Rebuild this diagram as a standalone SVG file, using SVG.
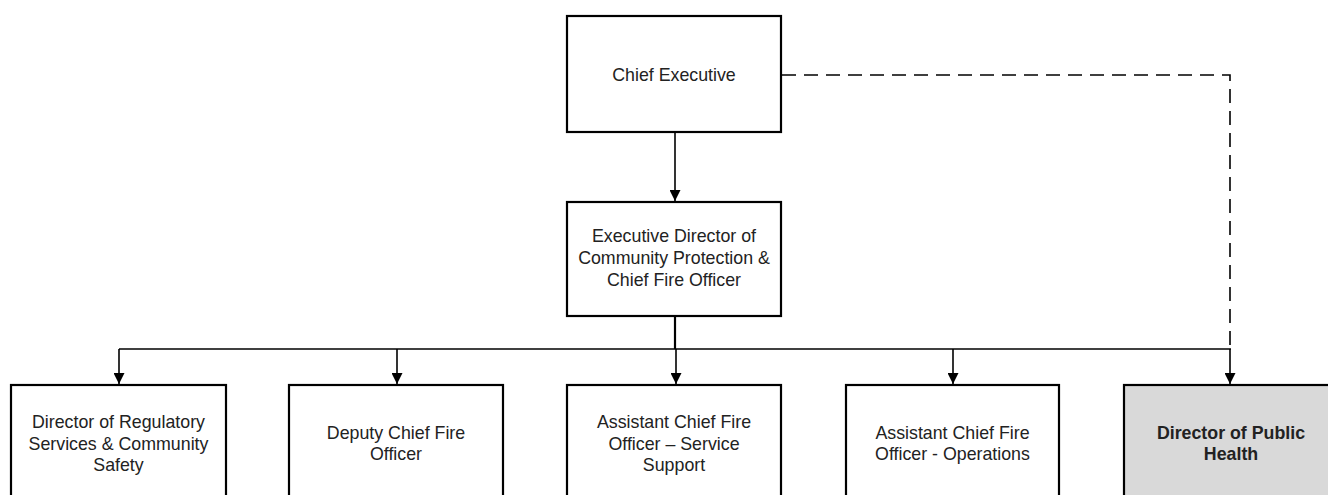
<svg xmlns="http://www.w3.org/2000/svg" width="1328" height="495" viewBox="0 0 1328 495">
<defs>
<style>
.box{fill:#ffffff;stroke:#000000;stroke-width:2.2}
.grey{fill:#d9d9d9}
.t{font-family:"Liberation Sans",Arial,sans-serif;font-size:17.8px;fill:#222222;text-anchor:middle}
.b{font-weight:bold}
.ln{fill:none;stroke:#000000;stroke-width:1.6}
.dash{stroke-dasharray:14 8}
</style>
<marker id="arr" markerUnits="userSpaceOnUse" markerWidth="11" markerHeight="11" refX="11" refY="5.5" orient="auto">
<path d="M0,0 L11,5.5 L0,11 z" fill="#000000"/>
</marker>
</defs>
<rect width="1328" height="495" fill="#ffffff"/>
<g id="connectors">
<line class="ln" x1="675" y1="133" x2="675" y2="201" marker-end="url(#arr)"/>
<line class="ln" x1="675" y1="317" x2="675" y2="349" style="stroke-width:2.2"/>
<line class="ln" x1="119" y1="349" x2="1231" y2="349"/>
<line class="ln" x1="119" y1="349" x2="119" y2="384" marker-end="url(#arr)"/>
<line class="ln" x1="397" y1="349" x2="397" y2="384" marker-end="url(#arr)"/>
<line class="ln" x1="676" y1="349" x2="676" y2="384" marker-end="url(#arr)"/>
<line class="ln" x1="953" y1="349" x2="953" y2="384" marker-end="url(#arr)"/>
<path class="ln dash" d="M782,75 H1230 V349"/>
<line class="ln" x1="1230" y1="349" x2="1230" y2="384" marker-end="url(#arr)"/>
</g>
<g id="chief-executive">
<rect class="box" x="567" y="16" width="214" height="116"/>
<text class="t" x="674" y="81">Chief Executive</text>
</g>
<g id="executive-director">
<rect class="box" x="567" y="202" width="214" height="114"/>
<text class="t" x="674" y="242">Executive Director of</text>
<text class="t" x="674" y="264">Community Protection &amp;</text>
<text class="t" x="674" y="286">Chief Fire Officer</text>
</g>
<g id="director-regulatory">
<rect class="box" x="11" y="385" width="215" height="116"/>
<text class="t" x="118.5" y="428">Director of Regulatory</text>
<text class="t" x="118.5" y="449.5">Services &amp; Community</text>
<text class="t" x="118.5" y="471">Safety</text>
</g>
<g id="deputy-chief">
<rect class="box" x="289" y="385" width="214" height="116"/>
<text class="t" x="396" y="438.5">Deputy Chief Fire</text>
<text class="t" x="396" y="460">Officer</text>
</g>
<g id="acfo-service-support">
<rect class="box" x="567" y="385" width="214" height="116"/>
<text class="t" x="674" y="428">Assistant Chief Fire</text>
<text class="t" x="674" y="449.5">Officer – Service</text>
<text class="t" x="674" y="471">Support</text>
</g>
<g id="acfo-operations">
<rect class="box" x="846" y="385" width="213" height="116"/>
<text class="t" x="952.5" y="438.5">Assistant Chief Fire</text>
<text class="t" x="952.5" y="460">Officer - Operations</text>
</g>
<g id="director-public-health">
<rect class="box grey" x="1124" y="385" width="214" height="116"/>
<text class="t b" x="1231" y="438.5">Director of Public</text>
<text class="t b" x="1231" y="460">Health</text>
</g>
</svg>
